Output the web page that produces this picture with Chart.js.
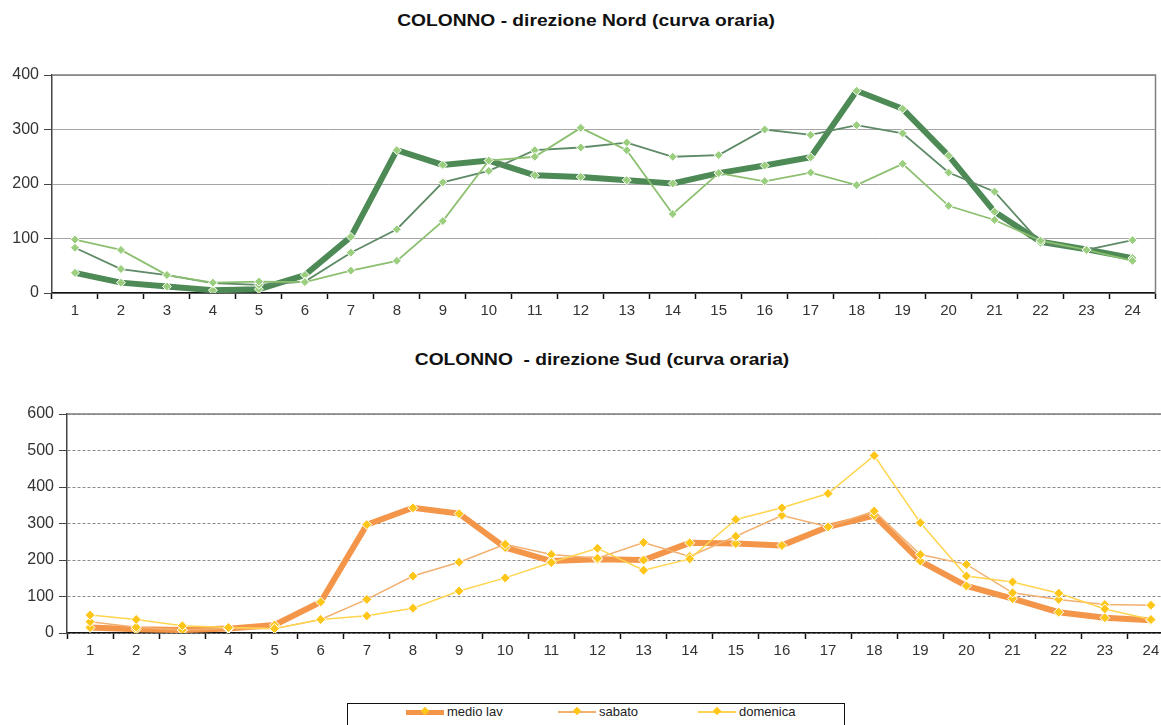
<!DOCTYPE html>
<html>
<head>
<meta charset="utf-8">
<script src="https://cdn.jsdelivr.net/npm/chart.js@4.4.1/dist/chart.umd.min.js"></script>
<style>
  html, body { margin: 0; padding: 0; background: #fff; overflow: hidden; }
  body { width: 1161px; height: 725px; position: relative; font-family: "Liberation Sans", Arial, sans-serif; }
  .title { position: absolute; font-weight: bold; font-size: 16px; color: #111; white-space: pre; transform: translateX(-50%) scaleX(1.2); }
  canvas { position: absolute; left: 0; }
  #legend { position: absolute; left: 347px; top: 703px; width: 498px; height: 32px; border: 1px solid #111; box-sizing: border-box; font-size: 13px; color: #222; }
  .item { position: absolute; top: 0; height: 16px; line-height: 16px; white-space: nowrap; }
  .sw { position: absolute; top: 8px; height: 0; }
  .mk { position: absolute; top: 4px; width: 6px; height: 6px; background: #ffc61a; transform: rotate(45deg); }
  .lbl { position: absolute; top: 0; white-space: nowrap; }
</style>
</head>
<body>
<div class="title" style="left:586px; top:12px;">COLONNO - direzione Nord (curva oraria)</div>
<canvas id="nord" width="1161" height="262" style="top:60px;"></canvas>
<div class="title" style="left:602px; top:351px;">COLONNO  - direzione Sud (curva oraria)</div>
<canvas id="sud" width="1180" height="265" style="top:395px;"></canvas>
<div id="legend"></div>
<script>
let hours = ['1','2','3','4','5','6','7','8','9','10','11','12','13','14','15','16','17','18','19','20','21','22','23','24'];

// direzione Nord
let nordMedioLav = [37, 19, 12, 5, 7, 33, 103, 262, 235, 243, 216, 213, 207, 201, 220, 234, 249, 371, 338, 252, 149, 94, 80, 64];
let nordSabato = [83, 44, 33, 18, 15, 21, 74, 117, 203, 224, 262, 267, 276, 250, 253, 300, 290, 308, 293, 221, 186, 92, 79, 97];
let nordDomenica = [98, 79, 33, 19, 21, 20, 41, 59, 132, 243, 250, 303, 262, 145, 220, 205, 221, 198, 237, 160, 134, 96, 79, 59];
let nordTicks = [0, 100, 200, 300, 400];

// direzione Sud
let sudMedioLav = [15, 10, 8, 12, 22, 85, 297, 343, 327, 234, 197, 202, 200, 247, 245, 240, 291, 322, 197, 129, 94, 57, 42, 35];
let sudSabato = [31, 16, 8, 12, 12, 37, 92, 156, 194, 243, 215, 205, 248, 210, 265, 322, 291, 334, 215, 188, 110, 92, 78, 76];
let sudDomenica = [49, 37, 20, 15, 12, 37, 47, 68, 115, 151, 193, 232, 172, 203, 311, 343, 382, 486, 302, 156, 140, 109, 66, 37];
let sudTicks = [0, 100, 200, 300, 400, 500, 600];

let legendItems = [
    { label: 'medio lav', color: '#f4964a', width: 5, x: 58 },
    { label: 'sabato', color: '#f2b070', width: 2, x: 210 },
    { label: 'domenica', color: '#ffd54f', width: 2, x: 350 }
];

// frame on top and right of the plot area
const framePlugin = {
    id: 'frame',
    afterDraw(chart) {
        let a = chart.chartArea;
        let ctx = chart.ctx;
        ctx.save();
        ctx.strokeStyle = '#7f7f7f';
        ctx.lineWidth = 1.5;
        ctx.beginPath();
        ctx.moveTo(a.left, a.top);
        ctx.lineTo(a.right, a.top);
        ctx.lineTo(a.right, a.bottom);
        ctx.stroke();
        ctx.restore();
    }
};

function makeChart(id, sets, ticks, opts) {
    let ctx = document.getElementById(id);
    return new Chart(ctx, {
        type: 'line',
        data: { labels: hours, datasets: sets },
        options: {
            responsive: false,
            animation: false,
            layout: { padding: { top: opts.padTop, right: opts.padRight, left: 0, bottom: 0 } },
            plugins: { legend: { display: false }, tooltip: { enabled: false } },
            scales: {
                x: {
                    offset: true,
                    grid: { offset: true, drawOnChartArea: false, drawTicks: true, tickLength: 6, tickColor: '#111', tickWidth: 1.5 },
                    border: { color: '#111', width: 1.5 },
                    ticks: { color: '#333', font: { family: 'Liberation Sans', size: 15 }, padding: 3, maxRotation: 0, autoSkip: false },
                    afterFit(scale) { scale.height = opts.xHeight; }
                },
                y: {
                    min: 0,
                    max: ticks[ticks.length - 1],
                    afterBuildTicks(scale) { scale.ticks = ticks.map(v => ({ value: v })); },
                    grid: { color: opts.gridColor, lineWidth: 1, tickLength: 8, tickColor: '#444' },
                    border: { color: '#444', width: 1.5, dash: opts.dash },
                    ticks: { color: '#333', font: { family: 'Liberation Sans', size: 16 }, padding: 5 },
                    afterFit(scale) { scale.width = opts.yWidth; }
                }
            }
        },
        plugins: [framePlugin]
    });
}

function series(data, color, width, marker, order, radius) {
    return {
        data: data,
        borderColor: color,
        borderWidth: width,
        pointStyle: 'rectRot',
        pointRadius: radius,
        pointBackgroundColor: marker,
        pointBorderColor: '#ffffff',
        pointBorderWidth: 1,
        tension: 0,
        order: order
    };
}

let graphs = [];

graphs.push(makeChart('nord', [
    series(nordMedioLav, '#4e8a55', 6, '#9bcf7f', 2, 4.5),
    series(nordSabato, '#5e8a66', 1.8, '#9bcf7f', 1, 4.5),
    series(nordDomenica, '#8cc070', 1.8, '#9bcf7f', 0, 4.5)
], nordTicks, { padTop: 15, padRight: 5, xHeight: 29, yWidth: 52, gridColor: '#a6a6a6', dash: [] }));

graphs.push(makeChart('sud', [
    series(sudMedioLav, '#f4964a', 6, '#ffc61a', 2, 5),
    series(sudSabato, '#f2b070', 1.5, '#ffc61a', 1, 5),
    series(sudDomenica, '#ffd54f', 1.5, '#ffc61a', 0, 5)
], sudTicks, { padTop: 19, padRight: 5, xHeight: 27, yWidth: 67, gridColor: '#8a8a8a', dash: [3, 2] }));

// legend
let legend = document.getElementById('legend');
legendItems.forEach(item => {
    let div = document.createElement('div');
    div.className = 'item';
    div.style.left = item.x + 'px';
    div.style.top = '0px';
    div.innerHTML =
        '<div class="sw" style="left:0;width:38px;border-top:' + item.width + 'px solid ' + item.color + ';top:' + (8 - item.width / 2) + 'px"></div>' +
        '<div class="mk" style="left:16px"></div>' +
        '<div class="lbl" style="left:41px">' + item.label + '</div>';
    legend.appendChild(div);
});
</script>
</body>
</html>
